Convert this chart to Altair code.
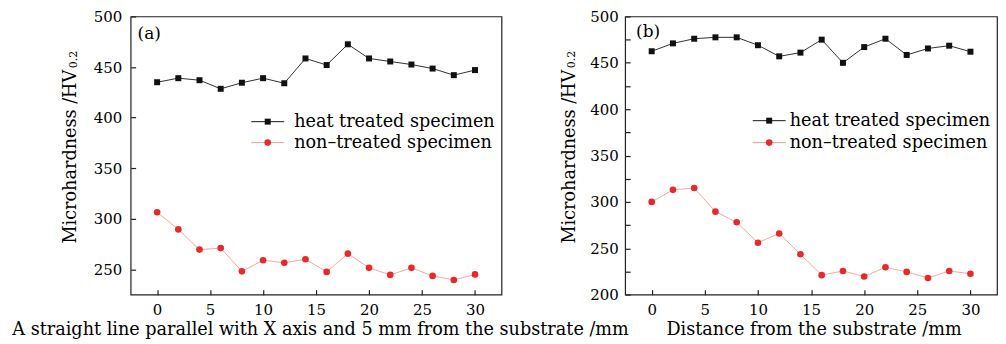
import altair as alt
import pandas as pd

# ---------------- data ----------------
x_mm = [0, 2, 4, 6, 8, 10, 12, 14, 16, 18, 20, 22, 24, 26, 28, 30]
a_heat = [435, 439, 437, 428.5, 434.5, 439, 434, 458.5, 452, 472.5, 458.5, 455.5, 452.5, 448.5, 442, 447]
a_non = [306.5, 289.5, 269.5, 271, 248, 259, 256.5, 260, 247.5, 265.5, 251.5, 244.5, 251.5, 243.5, 239.5, 245]
b_heat = [462.5, 471, 476, 477.5, 477.5, 469, 457, 461, 475, 450, 467, 476, 458.5, 465.5, 468.5, 462]
b_non = [300, 313, 315, 289.5, 278, 256, 266, 243.5, 221, 225.5, 219.5, 229.5, 224.5, 218, 225.5, 222.5]
series_names = ["heat treated specimen", "non\u2013treated specimen"]
x_tick_values = [0, 5, 10, 15, 20, 25, 30]
a_y_labels = [250, 300, 350, 400, 450, 500]
a_y_ticks = [250, 300, 350, 400, 450, 500]
b_y_labels = [200, 250, 300, 350, 400, 450, 500]
b_y_ticks = [200, 225, 250, 275, 300, 325, 350, 375, 400, 425, 450, 475, 500]
a_xtitle = "A straight line parallel with X axis and 5 mm from the substrate /mm"
b_xtitle = "Distance from the substrate /mm"
y_title = "Microhardness /HV"
y_sub = "0.2"
tags = ["(a)", "(b)"]

# ---------------- styling ----------------
FONT = "DejaVu Serif"
TITLE_SIZE = 17.7
LINE_COLORS = ["#1a1a1a", "#f3a092"]
MARK_COLORS = ["#111111", "#e8282b"]
SQ_SIZE = 36
CI_SIZE = 44
H = 279


def legend_entry(i, p):
    """One legend row (line sample, marker and label) inside the plot area."""
    ldf = pd.DataFrame({"s": [series_names[i]]})
    ry = p["rows"][i]
    rule = alt.Chart(ldf).mark_rule(color=LINE_COLORS[i], strokeWidth=1).encode(
        x=alt.value(p["l0"]), x2=alt.value(p["l1"]), y=alt.value(ry))
    if i == 0:
        mk = alt.Chart(ldf).mark_square(size=SQ_SIZE, opacity=1, color=MARK_COLORS[i])
    else:
        mk = alt.Chart(ldf).mark_circle(size=CI_SIZE, opacity=1, color=MARK_COLORS[i])
    mk = mk.encode(x=alt.value((p["l0"] + p["l1"]) / 2), y=alt.value(ry))
    txt = alt.Chart(ldf).mark_text(font=FONT, fontSize=TITLE_SIZE, align="left",
                                   baseline="alphabetic", color="black").encode(
        text="s:N", x=alt.value(p["tx"]), y=alt.value(ry + 5.5))
    return [rule, mk, txt]


def panel(heat, non, ydom, ylabels, yticks, xtitle, tag, p):
    df = pd.DataFrame({
        "x": x_mm + x_mm,
        "y": heat + non,
        "s": [series_names[0]] * len(heat) + [series_names[1]] * len(non),
    })
    base = alt.Chart(df)
    xs = alt.Scale(domain=[-2.5, 32.5], nice=False, zero=False)
    ys = alt.Scale(domain=ydom, nice=False, zero=False)

    line = base.mark_line(strokeWidth=0.9).encode(
        x=alt.X("x:Q", scale=xs, axis=alt.Axis(
            orient="bottom", values=x_tick_values, format="d", ticks=False, tickSize=0,
            domain=False, grid=False, labelPadding=8, labelFontSize=15,
            title=xtitle, titleX=p["xtx"], titleY=40, titleBaseline="alphabetic")),
        y=alt.Y("y:Q", scale=ys, axis=alt.Axis(
            orient="left", values=ylabels, format="d", ticks=False, tickSize=0,
            domain=False, grid=False, labelPadding=p["ylabpad"], labelFontSize=15,
            title=y_title, titleAngle=270, titleAlign="right", titleBaseline="alphabetic",
            titleX=p["ytx"], titleY=p["tty"])),
        color=alt.Color("s:N", scale=alt.Scale(domain=series_names, range=LINE_COLORS), legend=None),
    )
    sq = base.transform_filter(alt.datum.s == series_names[0]).mark_square(
        size=SQ_SIZE, opacity=1, color=MARK_COLORS[0]).encode(
        x=alt.X("x:Q", scale=xs, axis=None), y=alt.Y("y:Q", scale=ys, axis=None))
    ci = base.transform_filter(alt.datum.s == series_names[1]).mark_circle(
        size=CI_SIZE, opacity=1, color=MARK_COLORS[1]).encode(
        x=alt.X("x:Q", scale=xs, axis=None), y=alt.Y("y:Q", scale=ys, axis=None))

    # inward ticks: a second, label-less axis pushed 5px into the plot
    tk = base.mark_line(opacity=0).encode(
        x=alt.X("x:Q", scale=xs, axis=alt.Axis(
            orient="bottom", values=x_tick_values, labels=False, domain=False, grid=False,
            ticks=True, tickSize=5, tickWidth=1.2, tickColor="#222", offset=-5, title=None)),
        y=alt.Y("y:Q", scale=ys, axis=alt.Axis(
            orient="left", values=yticks, labels=False, domain=False, grid=False,
            ticks=True, tickSize=5, tickWidth=1.2, tickColor="#222", offset=-5, title=None)),
        detail="s:N",
    )

    tagc = alt.Chart(pd.DataFrame({"t": [tag]})).mark_text(
        font=FONT, fontSize=17, align="left", baseline="alphabetic", color="black").encode(
        text="t:N", x=alt.value(p["tagx"]), y=alt.value(p["tagy"]))
    sub = alt.Chart(pd.DataFrame({"t": [y_sub]})).mark_text(
        font=FONT, fontSize=11, angle=270, align="left", baseline="alphabetic", color="black").encode(
        text="t:N", x=alt.value(p["subx"]), y=alt.value(p["suby"]))

    layers = [line, sq, ci, tk, tagc, sub] + legend_entry(0, p) + legend_entry(1, p)
    return alt.layer(*layers).resolve_axis(
        x="independent", y="independent").properties(width=p["w"], height=H)


pa = panel(a_heat, a_non, [225, 500], a_y_labels, a_y_ticks, a_xtitle, tags[0],
           dict(w=372, ylabpad=9, ytx=-55, tty=53, subx=-54, suby=52, xtx=190,
                tagx=7, tagy=22.5, l0=121, l1=154, tx=164, rows=[105.5, 126.5]))
pb = panel(b_heat, b_non, [200, 500], b_y_labels, b_y_ticks, b_xtitle, tags[1],
           dict(w=373, ylabpad=7, ytx=-51, tty=53, subx=-50, suby=52, xtx=189,
                tagx=11, tagy=20.5, l0=128, l1=161, tx=165, rows=[104.5, 126.5]))

chart = alt.hconcat(pa, pb, spacing=124, bounds="flush").resolve_scale(
    color="independent"
).properties(
    padding={"left": 3, "top": 0, "right": 0, "bottom": 0}
).configure_view(
    stroke="#222", strokeWidth=1.2
).configure_axis(
    labelFont=FONT, titleFont=FONT, labelColor="black", titleColor="black",
    titleFontSize=TITLE_SIZE, titleFontWeight="normal"
)

chart.save("out.html", embed_options={"renderer": "svg", "actions": False})
